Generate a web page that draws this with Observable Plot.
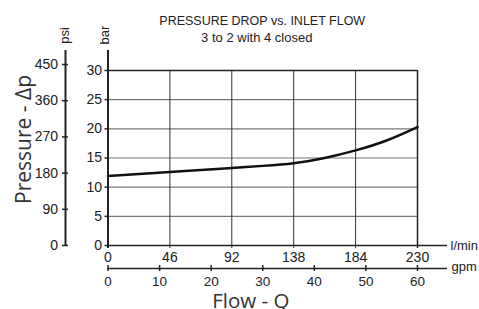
<!DOCTYPE html>
<html><head><meta charset="utf-8">
<script src="https://cdn.jsdelivr.net/npm/d3@7"></script>
<script src="https://cdn.jsdelivr.net/npm/@observablehq/plot@0.6"></script>
<style>body{margin:0;background:#fff}</style>
</head><body><div id="chart"></div>
<script>
const flowLmin = [0, 23, 46, 69, 92, 115, 138, 161, 184, 207, 230];
const pressureBar = [11.9, 12.25, 12.6, 12.95, 13.3, 13.65, 14.1, 15.0, 16.3, 18.0, 20.3];
const lminTicks = [0, 46, 92, 138, 184, 230];
const gpmTicks = [0, 10, 20, 30, 40, 50, 60];
const barTicks = [0, 5, 10, 15, 20, 25, 30];
const psiTicks = [0, 90, 180, 270, 360, 450];
const title = "PRESSURE DROP vs. INLET FLOW";
const subtitle = "3 to 2 with 4 closed";
const xLabel = "Flow - Q";
const yLabel = "Pressure - Δp";
const PSI_PER_BAR = 14.5038;
const LMIN_PER_GPM = 230 / 60;

const curveData = flowLmin.map((x, i) => ({x, y: pressureBar[i]}));
const narrow = "'Liberation Sans',Arial,sans-serif";
const wide = "'Open Sans','Noto Sans',sans-serif";
const ink = "#222";
const psiDx = -42.5;
const fs = 14;

const chart = Plot.plot({
  width: 479, height: 309,
  marginLeft: 107.5, marginRight: 62, marginTop: 70, marginBottom: 64,
  x: {domain: [0, 230], axis: null},
  y: {domain: [0, 30], axis: null},
  style: {fontFamily: narrow, fontSize: "14px", color: ink, background: "#fff"},
  marks: [
    Plot.ruleY(barTicks.filter(d => d > 0 && d < 30), {stroke: "#777", strokeWidth: 1.2}),
    Plot.ruleX(lminTicks.filter(d => d > 0 && d < 230), {stroke: "#333", strokeWidth: 1, insetBottom: -3}),
    Plot.ruleY([30], {stroke: ink, strokeWidth: 1.5}),
    Plot.ruleX([230], {stroke: ink, strokeWidth: 1.5, insetBottom: -3}),
    Plot.ruleY([0], {x1: 0, x2: 230, insetRight: -30, stroke: ink, strokeWidth: 1.5}),
    Plot.ruleX([0], {insetTop: -20, insetBottom: -3, stroke: ink, strokeWidth: 2}),
    Plot.ruleY(barTicks, {x1: 0, x2: 0, insetLeft: -3, stroke: ink, strokeWidth: 1.5}),
    Plot.text(barTicks, {x: 0, y: d => d, text: d => String(d), textAnchor: "end", dx: -6, fontSize: fs, fill: ink}),
    // psi axis
    Plot.ruleX([0], {insetTop: -20, dx: psiDx, stroke: ink, strokeWidth: 2}),
    Plot.ruleY(psiTicks, {y: d => d / PSI_PER_BAR, x1: 0, x2: 0, insetLeft: -3, insetRight: -3, dx: psiDx, stroke: ink, strokeWidth: 1.5}),
    Plot.text(psiTicks, {x: 0, y: d => d / PSI_PER_BAR, text: d => String(d), textAnchor: "end", dx: psiDx - 7.5, fontSize: fs, fill: ink}),
    // l/min labels
    Plot.text(lminTicks, {x: d => d, y: 0, text: d => String(d), dy: 12, fontSize: fs, fill: ink}),
    Plot.text(["l/min"], {x: 230, y: 0, text: d => d, textAnchor: "start", dx: 33, fontSize: 13, fill: ink}),
    // gpm axis
    Plot.ruleY([0], {x1: 0, x2: 230, insetRight: -30, dy: 23, stroke: ink, strokeWidth: 1.5}),
    Plot.ruleX(gpmTicks, {x: d => d * LMIN_PER_GPM, y1: 0, y2: 0, insetTop: -3, insetBottom: -3, dy: 23, stroke: ink, strokeWidth: 1.5}),
    Plot.text(gpmTicks, {x: d => d * LMIN_PER_GPM, y: 0, text: d => String(d), dy: 36, fontSize: 13.5, fill: ink}),
    Plot.text(["gpm"], {x: 230, y: 0, text: d => d, textAnchor: "start", dx: 34, dy: 21.5, fontSize: 13, fill: ink}),
    // curve
    Plot.line(curveData, {x: "x", y: "y", curve: "natural", stroke: "#111", strokeWidth: 2.5}),
    // titles
    Plot.text([title], {frameAnchor: "top", text: d => d, lineAnchor: "bottom", dy: -45.5, dx: -0.5, fontSize: 12.5, fill: ink}),
    Plot.text([subtitle], {frameAnchor: "top", text: d => d, lineAnchor: "bottom", dy: -29, dx: -6, fontSize: 13, fill: ink}),
    Plot.text(["psi"], {x: 0, y: 30, text: d => d, rotate: -90, dx: -43.5, dy: -35, fontSize: 13, fill: ink}),
    Plot.text(["bar"], {x: 0, y: 30, text: d => d, rotate: -90, dx: -3.5, dy: -35.5, fontSize: 13, fill: ink}),
    Plot.text([yLabel], {frameAnchor: "left", text: d => d, textAnchor: "middle", rotate: -90, dx: -83.5, dy: -18.5, fontSize: 21, fontFamily: wide, fill: "#333"}),
    Plot.text([xLabel], {frameAnchor: "bottom", text: d => d, textAnchor: "middle", lineAnchor: "bottom", dx: -12, dy: 62, fontSize: 20.5, fontFamily: wide, fill: "#333"})
  ]
});
document.getElementById("chart").append(chart);
</script>
</body></html>
